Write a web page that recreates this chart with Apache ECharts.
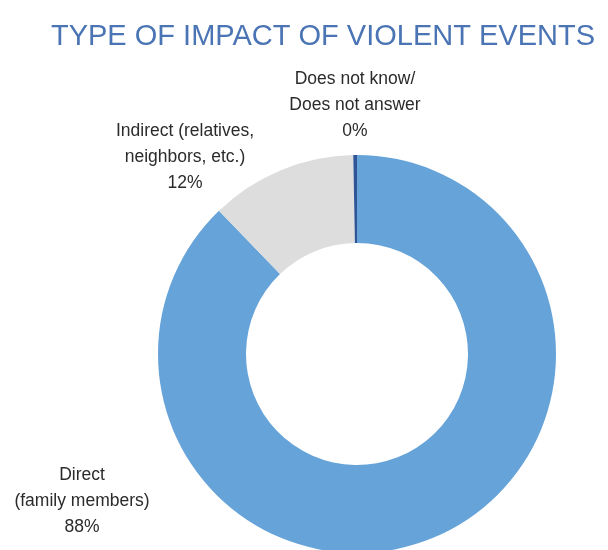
<!DOCTYPE html>
<html><head><meta charset="utf-8">
<script src="https://cdn.jsdelivr.net/npm/echarts@6/dist/echarts.min.js"></script>
<style>html,body{margin:0;padding:0;background:#fff}#c{width:608px;height:550px}</style>
</head><body><div id="c"></div>
<script>
const categories = ['Direct\n(family members)', 'Indirect (relatives,\nneighbors, etc.)', 'Does not know/\nDoes not answer'];
const values = [87.8, 11.9, 0.3];
const pctLabels = ['88%', '12%', '0%'];
const colors = ['#66A3D8', '#DDDDDD', '#2F5597'];
const labelPos = [[82, 501], [185, 157], [355, 105]];

const chart = echarts.init(document.getElementById('c'));
chart.setOption({
  animation: false,
  title: {
    text: 'TYPE OF IMPACT OF VIOLENT EVENTS',
    left: 318, top: 17, textAlign: 'center',
    textStyle: {fontFamily: 'Liberation Sans', fontWeight: 'normal', fontSize: 29, color: '#4A74B4'}
  },
  series: [{
    type: 'pie',
    center: [357, 354],
    radius: [111, 199],
    startAngle: 90,
    clockwise: true,
    data: categories.map((c, i) => ({name: c, value: values[i], itemStyle: {color: colors[i]}})),
    label: {
      show: true,
      formatter: p => p.name + '\n' + pctLabels[p.dataIndex],
      fontFamily: 'Liberation Sans', fontSize: 17.5, lineHeight: 26, color: '#2b2b2b', align: 'center',
      overflow: 'none', width: 300
    },
    labelLine: {show: false},
    labelLayout: p => ({x: labelPos[p.dataIndex][0], y: labelPos[p.dataIndex][1], align: 'center', verticalAlign: 'middle'}),
    emphasis: {disabled: true}
  }]
});
</script></body></html>
